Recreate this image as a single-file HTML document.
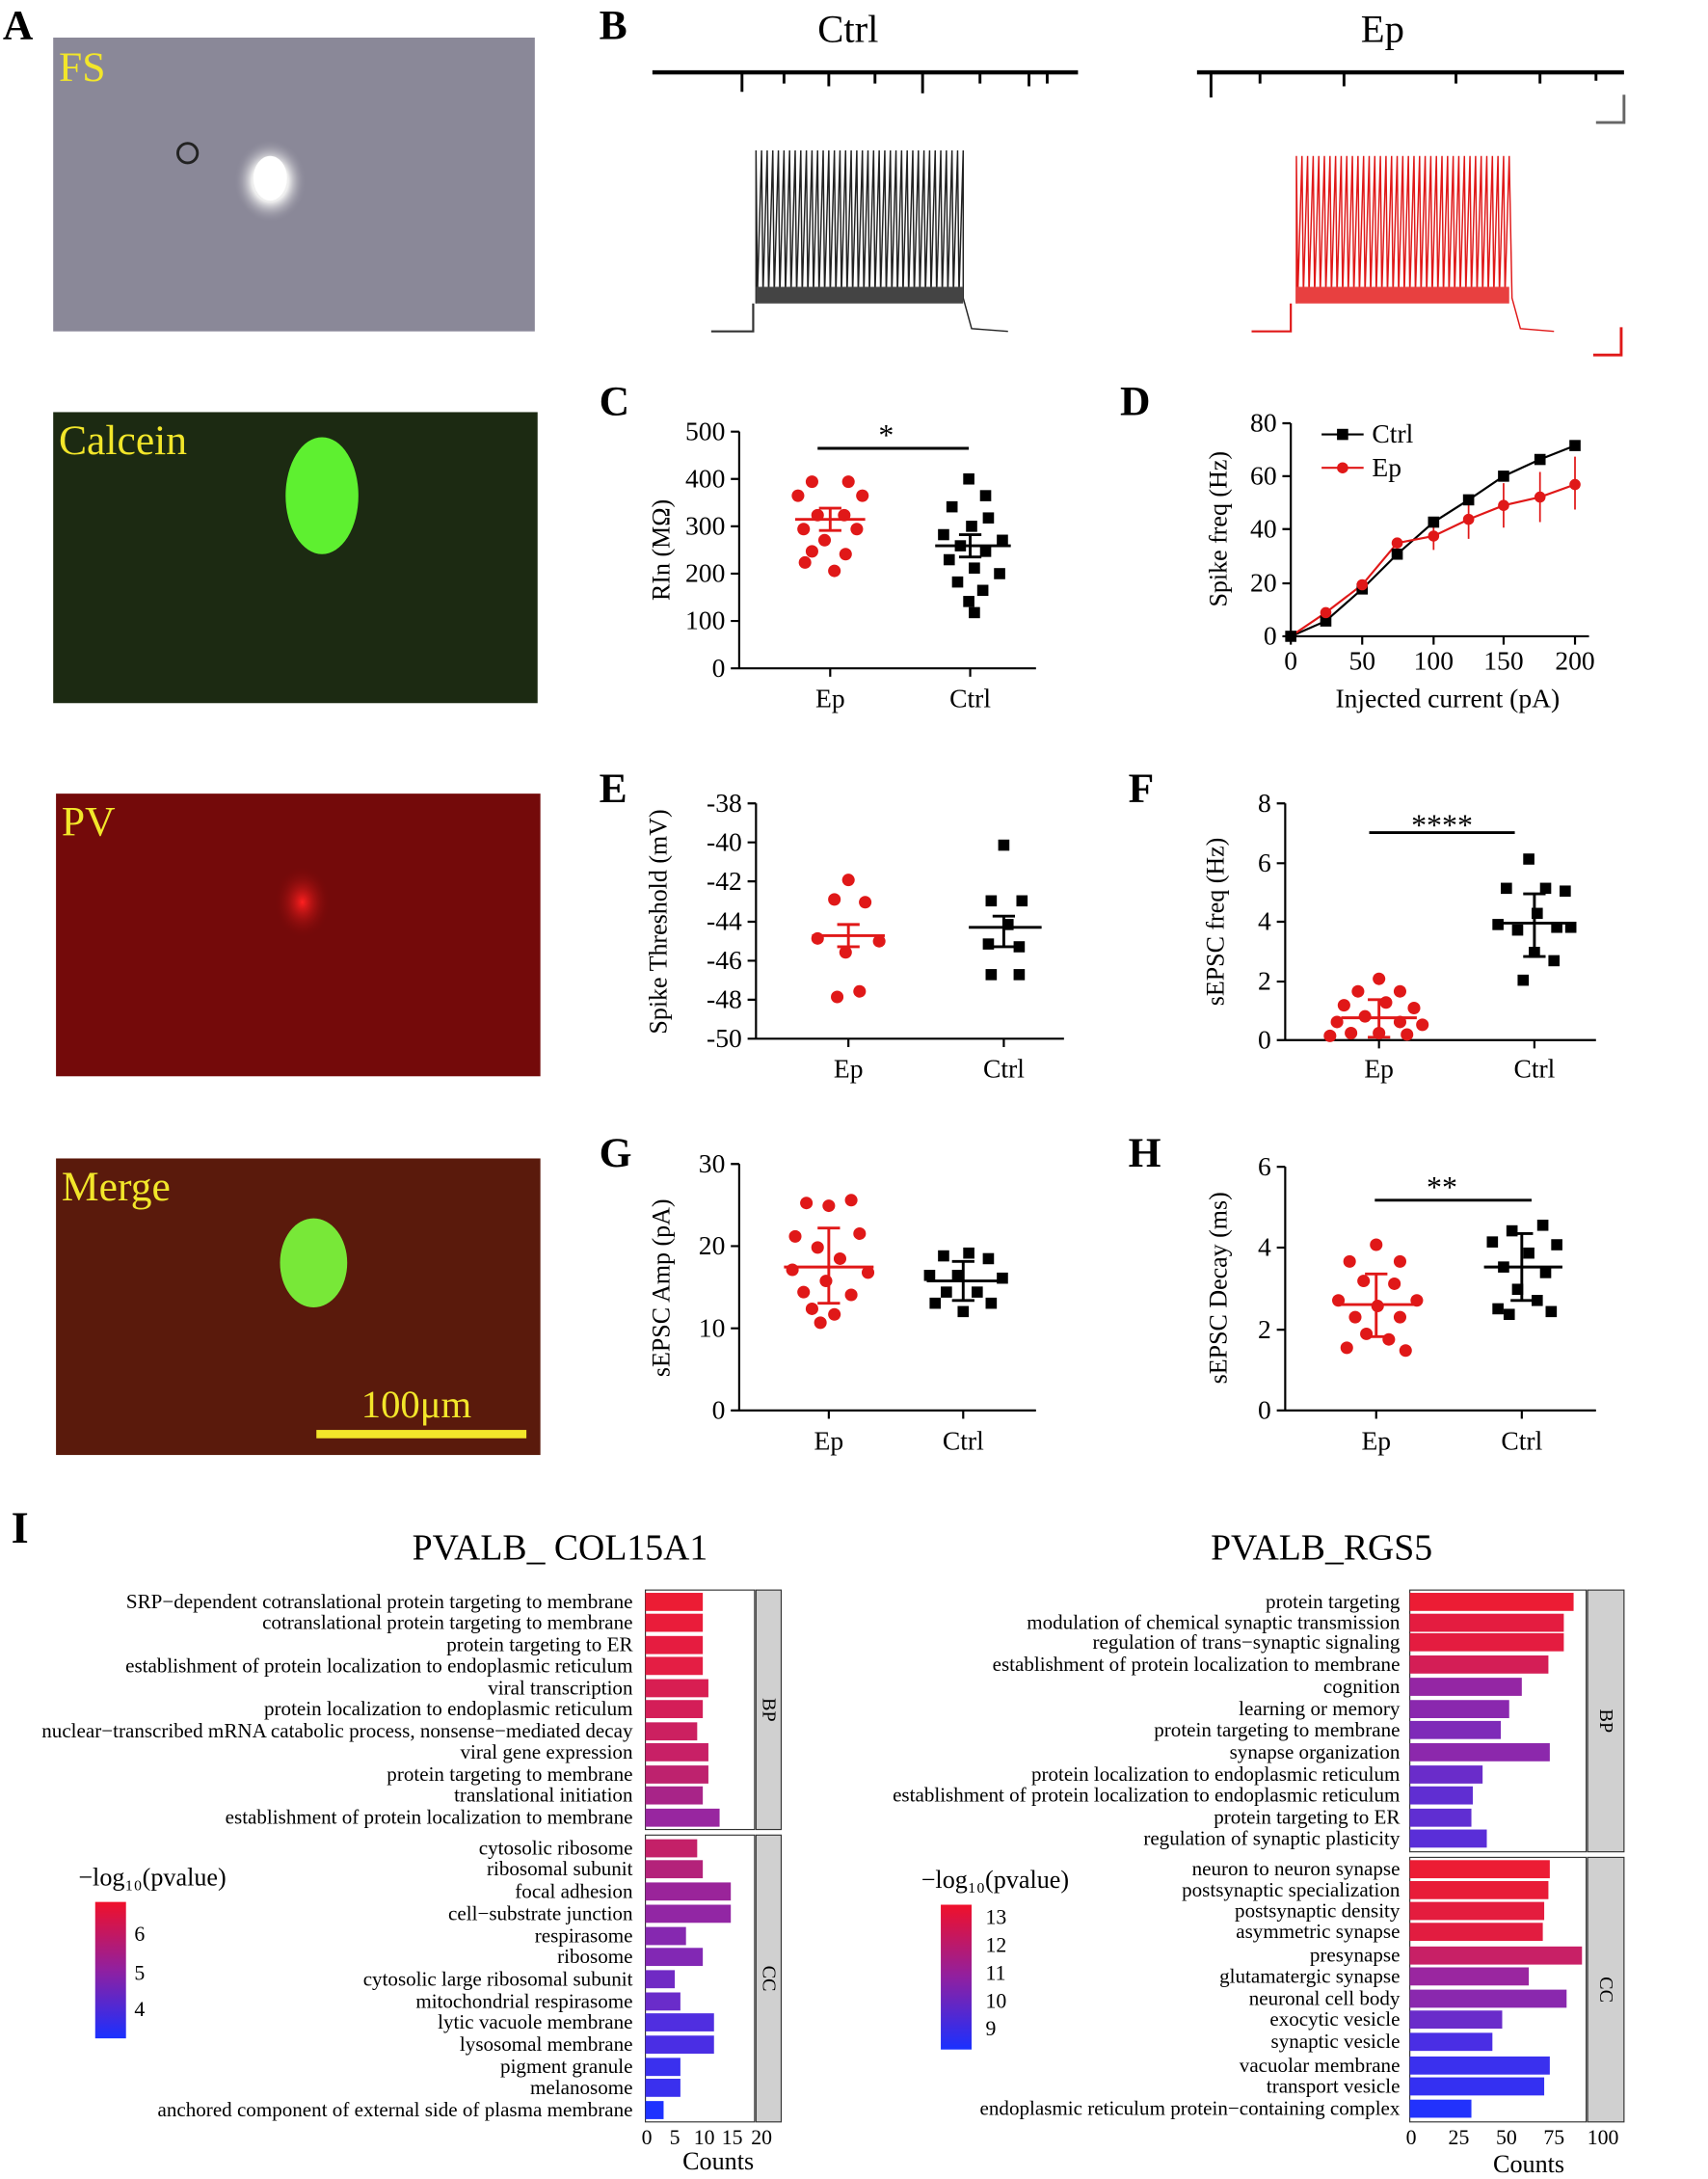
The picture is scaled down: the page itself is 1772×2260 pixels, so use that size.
<!DOCTYPE html>
<html><head><meta charset="utf-8"><style>
html,body{margin:0;padding:0;background:#fff;}
svg{display:block;font-family:"Liberation Serif",serif;}
</style></head><body>
<svg width="1772" height="2260" viewBox="0 0 1220 1565" preserveAspectRatio="none" xmlns="http://www.w3.org/2000/svg">
<defs>
<radialGradient id="cell" cx="0.5" cy="0.5" r="0.5"><stop offset="0" stop-color="#fff"/><stop offset="0.5" stop-color="#eee"/><stop offset="1" stop-color="#8a8898" stop-opacity="0"/></radialGradient>
<radialGradient id="pvc" cx="0.5" cy="0.5" r="0.5"><stop offset="0" stop-color="#ff2020"/><stop offset="1" stop-color="#7a0808" stop-opacity="0"/></radialGradient>
<linearGradient id="cbar" x1="0" y1="0" x2="0" y2="1"><stop offset="0" stop-color="#f0102a"/><stop offset="0.5" stop-color="#9020a0"/><stop offset="1" stop-color="#1a30ff"/></linearGradient>
</defs>
<text x="2" y="28" font-size="30" font-weight="bold">A</text>
<rect x="38" y="27" width="344" height="211" fill="#8a8898"/>
<ellipse cx="193" cy="130" rx="26" ry="30" fill="url(#cell)"/>
<ellipse cx="193" cy="128" rx="12" ry="16" fill="#fff"/>
<circle cx="134" cy="110" r="7" fill="none" stroke="#222" stroke-width="2"/>
<text x="42" y="58" font-size="30" fill="#f2e62a">FS</text>
<rect x="38" y="296" width="346" height="209" fill="#1c2a12"/>
<ellipse cx="230" cy="356" rx="26" ry="42" fill="#5ef030"/>
<text x="42" y="326" font-size="30" fill="#f2e62a">Calcein</text>
<rect x="40" y="570" width="346" height="203" fill="#740a0a"/>
<ellipse cx="216" cy="648" rx="20" ry="26" fill="url(#pvc)"/>
<text x="44" y="600" font-size="30" fill="#f2e62a">PV</text>
<rect x="40" y="832" width="346" height="213" fill="#5a1a0c"/>
<ellipse cx="224" cy="907" rx="24" ry="32" fill="#78e838"/>
<text x="44" y="862" font-size="30" fill="#f2e62a">Merge</text>
<rect x="226" y="1027" width="150" height="6" fill="#f2e62a"/>
<text x="258" y="1018" font-size="28" fill="#f2e62a">100μm</text>
<text x="428" y="28" font-size="30" font-weight="bold">B</text>
<text x="584" y="30" font-size="28">Ctrl</text>
<text x="972" y="30" font-size="28">Ep</text>
<path d="M466 52 L770 52" stroke="#000" stroke-width="3"/>
<path d="M530 52v14M560 52v8M592 52v10M625 52v8M659 52v15M700 52v8M735 52v10M748 52v8" stroke="#000" stroke-width="2"/>
<path d="M855 52 L1160 52" stroke="#000" stroke-width="3"/>
<path d="M865 52v18M900 52v8M960 52v10M1040 52v8M1100 52v8M1140 52v6" stroke="#000" stroke-width="2"/>
<path d="M1140 88h20v-20" stroke="#666" stroke-width="2" fill="none"/>
<path d="M508 238h30v-20" stroke="#333" stroke-width="1.5" fill="none"/>
<path d="M540 218 L540 108 L541 212 L544 108 L545 212 L548 108 L549 212 L552 108 L553 212 L556 108 L557 212 L560 108 L561 212 L564 108 L565 212 L568 108 L569 212 L572 108 L573 212 L576 108 L577 212 L580 108 L581 212 L584 108 L585 212 L588 108 L589 212 L592 108 L593 212 L596 108 L597 212 L600 108 L601 212 L604 108 L605 212 L608 108 L609 212 L612 108 L613 212 L616 108 L617 212 L620 108 L621 212 L624 108 L625 212 L628 108 L629 212 L632 108 L633 212 L636 108 L637 212 L640 108 L641 212 L644 108 L645 212 L648 108 L649 212 L652 108 L653 212 L656 108 L657 212 L660 108 L661 212 L664 108 L665 212 L668 108 L669 212 L672 108 L673 212 L676 108 L677 212 L680 108 L681 212 L684 108 L685 212 L688 108 L688 214 L694 236 L720 238" stroke="#222" stroke-width="1" fill="none"/>
<path d="M540 206 H688 V218 H540Z" fill="#444"/>
<path d="M894 238h28v-20" stroke="#e01818" stroke-width="1.5" fill="none"/>
<path d="M926 218 L926 112 L927 212 L930 112 L931 212 L934 112 L935 212 L938 112 L939 212 L942 112 L943 212 L946 112 L947 212 L950 112 L951 212 L954 112 L955 212 L958 112 L959 212 L962 112 L963 212 L966 112 L967 212 L970 112 L971 212 L974 112 L975 212 L978 112 L979 212 L982 112 L983 212 L986 112 L987 212 L990 112 L991 212 L994 112 L995 212 L998 112 L999 212 L1002 112 L1003 212 L1006 112 L1007 212 L1010 112 L1011 212 L1014 112 L1015 212 L1018 112 L1019 212 L1022 112 L1023 212 L1026 112 L1027 212 L1030 112 L1031 212 L1034 112 L1035 212 L1038 112 L1039 212 L1042 112 L1043 212 L1046 112 L1047 212 L1050 112 L1051 212 L1054 112 L1055 212 L1058 112 L1059 212 L1062 112 L1063 212 L1066 112 L1067 212 L1070 112 L1071 212 L1074 112 L1075 212 L1078 112 L1080 214 L1086 236 L1110 238" stroke="#e01818" stroke-width="1" fill="none"/>
<path d="M926 206 H1078 V218 H926Z" fill="#e84040"/>
<path d="M1138 255h20v-20" stroke="#e01818" stroke-width="2" fill="none"/>
<g font-size="19" fill="#000">
<text x="428" y="298" font-size="30" font-weight="bold">C</text>
<path d="M528 310V480H740 M522 310h6M522 344h6M522 378h6M522 412h6M522 446h6M522 480h6 M593 480v6M693 480v6" stroke="#000" stroke-width="1.5" fill="none"/>
<g text-anchor="end"><text x="518" y="316">500</text><text x="518" y="350">400</text><text x="518" y="384">300</text><text x="518" y="418">200</text><text x="518" y="452">100</text><text x="518" y="486">0</text></g>
<text x="593" y="508" text-anchor="middle">Ep</text><text x="693" y="508" text-anchor="middle">Ctrl</text>
<text transform="translate(478 395) rotate(-90)" text-anchor="middle" font-size="18">RIn (MΩ)</text>
<path d="M584 322h108" stroke="#000" stroke-width="2"/><text x="633" y="320" text-anchor="middle" font-size="22">*</text>
<g fill="#e01818"><circle cx="580" cy="346" r="4.5"/><circle cx="606" cy="346" r="4.5"/><circle cx="570" cy="356" r="4.5"/><circle cx="616" cy="356" r="4.5"/><circle cx="584" cy="370" r="4.5"/><circle cx="603" cy="370" r="4.5"/><circle cx="574" cy="380" r="4.5"/><circle cx="612" cy="380" r="4.5"/><circle cx="589" cy="388" r="4.5"/><circle cx="580" cy="396" r="4.5"/><circle cx="604" cy="398" r="4.5"/><circle cx="575" cy="404" r="4.5"/><circle cx="596" cy="410" r="4.5"/></g>
<path d="M568 373h50M593 365v16M585 365h16M585 381h16" stroke="#e01818" stroke-width="2"/>
<g fill="#000"><rect x="688" y="340" width="8" height="8"/><rect x="700" y="352" width="8" height="8"/><rect x="676" y="360" width="8" height="8"/><rect x="702" y="368" width="8" height="8"/><rect x="690" y="374" width="8" height="8"/><rect x="670" y="380" width="8" height="8"/><rect x="712" y="384" width="8" height="8"/><rect x="682" y="388" width="8" height="8"/><rect x="700" y="392" width="8" height="8"/><rect x="674" y="398" width="8" height="8"/><rect x="692" y="404" width="8" height="8"/><rect x="710" y="408" width="8" height="8"/><rect x="680" y="414" width="8" height="8"/><rect x="698" y="420" width="8" height="8"/><rect x="688" y="428" width="8" height="8"/><rect x="692" y="436" width="8" height="8"/></g>
<path d="M668 392h54M693 384v16M685 384h16M685 400h16" stroke="#000" stroke-width="2"/>
<text x="800" y="298" font-size="30" font-weight="bold">D</text>
<path d="M922 304V457H1135 M916 304h6M916 342h6M916 380h6M916 419h6M916 457h6 M922 457v6M973 457v6M1024 457v6M1074 457v6M1125 457v6" stroke="#000" stroke-width="1.5" fill="none"/>
<g text-anchor="end"><text x="912" y="310">80</text><text x="912" y="348">60</text><text x="912" y="386">40</text><text x="912" y="425">20</text><text x="912" y="463">0</text></g>
<g text-anchor="middle"><text x="922" y="481">0</text><text x="973" y="481">50</text><text x="1024" y="481">100</text><text x="1074" y="481">150</text><text x="1125" y="481">200</text></g>
<text x="1034" y="508" text-anchor="middle">Injected current (pA)</text>
<text transform="translate(876 380) rotate(-90)" text-anchor="middle" font-size="18">Spike freq (Hz)</text>
<path d="M922 457L947 446L973 423L998 398L1024 375L1049 359L1074 342L1100 330L1125 320" stroke="#000" stroke-width="1.5" fill="none"/>
<path d="M922 457L947 440L973 420L998 390L1024 385L1049 373L1074 363L1100 357L1125 348" stroke="#e01818" stroke-width="1.5" fill="none"/>
<path d="M1024 385v-10M1049 373v-14M1074 363v-16M1100 357v-18M1125 348v-20M1125 348v18M1100 357v18M1074 363v16M1049 373v14M1024 385v10" stroke="#e01818" stroke-width="1.2"/>
<g fill="#000"><rect x="918" y="453" width="8" height="8"/><rect x="943" y="442" width="8" height="8"/><rect x="969" y="419" width="8" height="8"/><rect x="994" y="394" width="8" height="8"/><rect x="1020" y="371" width="8" height="8"/><rect x="1045" y="355" width="8" height="8"/><rect x="1070" y="338" width="8" height="8"/><rect x="1096" y="326" width="8" height="8"/><rect x="1121" y="316" width="8" height="8"/></g>
<g fill="#e01818"><circle cx="947" cy="440" r="4"/><circle cx="973" cy="420" r="4"/><circle cx="998" cy="390" r="4"/><circle cx="1024" cy="385" r="4"/><circle cx="1049" cy="373" r="4"/><circle cx="1074" cy="363" r="4"/><circle cx="1100" cy="357" r="4"/><circle cx="1125" cy="348" r="4"/></g>
<path d="M944 312h30" stroke="#000" stroke-width="1.5"/><rect x="955" y="308" width="8" height="8"/><text x="980" y="318">Ctrl</text>
<path d="M944 336h30" stroke="#e01818" stroke-width="1.5"/><circle cx="959" cy="336" r="4" fill="#e01818"/><text x="980" y="342">Ep</text>
<text x="428" y="576" font-size="30" font-weight="bold">E</text>
<path d="M540 577V746H760 M534 577h6M534 605h6M534 633h6M534 662h6M534 690h6M534 718h6M534 746h6 M606 746v6M717 746v6" stroke="#000" stroke-width="1.5" fill="none"/>
<g text-anchor="end"><text x="530" y="583">-38</text><text x="530" y="611">-40</text><text x="530" y="639">-42</text><text x="530" y="668">-44</text><text x="530" y="696">-46</text><text x="530" y="724">-48</text><text x="530" y="752">-50</text></g>
<text x="606" y="774" text-anchor="middle">Ep</text><text x="717" y="774" text-anchor="middle">Ctrl</text>
<text transform="translate(476 662) rotate(-90)" text-anchor="middle" font-size="18">Spike Threshold (mV)</text>
<g fill="#e01818"><circle cx="606" cy="632" r="4.5"/><circle cx="596" cy="646" r="4.5"/><circle cx="618" cy="648" r="4.5"/><circle cx="584" cy="674" r="4.5"/><circle cx="628" cy="676" r="4.5"/><circle cx="604" cy="684" r="4.5"/><circle cx="598" cy="716" r="4.5"/><circle cx="614" cy="712" r="4.5"/></g>
<path d="M580 672h52M606 664v16M598 664h16M598 680h16" stroke="#e01818" stroke-width="2"/>
<g fill="#000"><rect x="713" y="603" width="8" height="8"/><rect x="704" y="643" width="8" height="8"/><rect x="726" y="643" width="8" height="8"/><rect x="716" y="660" width="8" height="8"/><rect x="702" y="674" width="8" height="8"/><rect x="724" y="676" width="8" height="8"/><rect x="704" y="696" width="8" height="8"/><rect x="724" y="696" width="8" height="8"/></g>
<path d="M692 666h52M717 658v22M709 658h16M709 680h16" stroke="#000" stroke-width="2"/>
<text x="806" y="576" font-size="30" font-weight="bold">F</text>
<path d="M918 577V747H1140 M912 577h6M912 620h6M912 662h6M912 705h6M912 747h6 M985 747v6M1096 747v6" stroke="#000" stroke-width="1.5" fill="none"/>
<g text-anchor="end"><text x="908" y="583">8</text><text x="908" y="626">6</text><text x="908" y="668">4</text><text x="908" y="711">2</text><text x="908" y="753">0</text></g>
<text x="985" y="774" text-anchor="middle">Ep</text><text x="1096" y="774" text-anchor="middle">Ctrl</text>
<text transform="translate(874 662) rotate(-90)" text-anchor="middle" font-size="18">sEPSC freq (Hz)</text>
<path d="M978 598h104" stroke="#000" stroke-width="2"/><text x="1030" y="600" text-anchor="middle" font-size="22">****</text>
<g fill="#e01818"><circle cx="985" cy="703" r="4.5"/><circle cx="970" cy="712" r="4.5"/><circle cx="1000" cy="712" r="4.5"/><circle cx="960" cy="722" r="4.5"/><circle cx="990" cy="720" r="4.5"/><circle cx="1010" cy="724" r="4.5"/><circle cx="975" cy="730" r="4.5"/><circle cx="955" cy="734" r="4.5"/><circle cx="1000" cy="734" r="4.5"/><circle cx="1016" cy="736" r="4.5"/><circle cx="965" cy="742" r="4.5"/><circle cx="985" cy="742" r="4.5"/><circle cx="1005" cy="743" r="4.5"/><circle cx="950" cy="744" r="4.5"/></g>
<path d="M958 731h54M985 718v27M977 718h16M977 745h16" stroke="#e01818" stroke-width="2"/>
<g fill="#000"><rect x="1088" y="613" width="8" height="8"/><rect x="1072" y="634" width="8" height="8"/><rect x="1100" y="634" width="8" height="8"/><rect x="1114" y="636" width="8" height="8"/><rect x="1094" y="652" width="8" height="8"/><rect x="1066" y="660" width="8" height="8"/><rect x="1108" y="662" width="8" height="8"/><rect x="1080" y="664" width="8" height="8"/><rect x="1118" y="662" width="8" height="8"/><rect x="1092" y="680" width="8" height="8"/><rect x="1106" y="686" width="8" height="8"/><rect x="1084" y="700" width="8" height="8"/></g>
<path d="M1068 663h56M1096 642v45M1088 642h16M1088 687h16" stroke="#000" stroke-width="2"/>
<text x="428" y="838" font-size="30" font-weight="bold">G</text>
<path d="M528 836V1013H740 M522 836h6M522 895h6M522 954h6M522 1013h6 M592 1013v6M688 1013v6" stroke="#000" stroke-width="1.5" fill="none"/>
<g text-anchor="end"><text x="518" y="842">30</text><text x="518" y="901">20</text><text x="518" y="960">10</text><text x="518" y="1019">0</text></g>
<text x="592" y="1041" text-anchor="middle">Ep</text><text x="688" y="1041" text-anchor="middle">Ctrl</text>
<text transform="translate(478 925) rotate(-90)" text-anchor="middle" font-size="18">sEPSC Amp (pA)</text>
<g fill="#e01818"><circle cx="576" cy="864" r="4.5"/><circle cx="592" cy="866" r="4.5"/><circle cx="608" cy="862" r="4.5"/><circle cx="568" cy="888" r="4.5"/><circle cx="614" cy="886" r="4.5"/><circle cx="584" cy="896" r="4.5"/><circle cx="600" cy="904" r="4.5"/><circle cx="566" cy="912" r="4.5"/><circle cx="620" cy="914" r="4.5"/><circle cx="590" cy="920" r="4.5"/><circle cx="574" cy="928" r="4.5"/><circle cx="608" cy="930" r="4.5"/><circle cx="580" cy="940" r="4.5"/><circle cx="596" cy="944" r="4.5"/><circle cx="586" cy="950" r="4.5"/></g>
<path d="M560 910h64M592 882v54M584 882h16M584 936h16" stroke="#e01818" stroke-width="2"/>
<g fill="#000"><rect x="670" y="898" width="8" height="8"/><rect x="688" y="896" width="8" height="8"/><rect x="702" y="900" width="8" height="8"/><rect x="660" y="912" width="8" height="8"/><rect x="680" y="912" width="8" height="8"/><rect x="712" y="914" width="8" height="8"/><rect x="672" y="924" width="8" height="8"/><rect x="694" y="924" width="8" height="8"/><rect x="664" y="932" width="8" height="8"/><rect x="704" y="932" width="8" height="8"/><rect x="684" y="938" width="8" height="8"/></g>
<path d="M662 920h54M688 906v28M680 906h16M680 934h16" stroke="#000" stroke-width="2"/>
<text x="806" y="838" font-size="30" font-weight="bold">H</text>
<path d="M918 838V1013H1140 M912 838h6M912 896h6M912 955h6M912 1013h6 M983 1013v6M1087 1013v6" stroke="#000" stroke-width="1.5" fill="none"/>
<g text-anchor="end"><text x="908" y="844">6</text><text x="908" y="902">4</text><text x="908" y="961">2</text><text x="908" y="1019">0</text></g>
<text x="983" y="1041" text-anchor="middle">Ep</text><text x="1087" y="1041" text-anchor="middle">Ctrl</text>
<text transform="translate(876 925) rotate(-90)" text-anchor="middle" font-size="18">sEPSC Decay (ms)</text>
<path d="M982 862h112" stroke="#000" stroke-width="2"/><text x="1030" y="860" text-anchor="middle" font-size="22">**</text>
<g fill="#e01818"><circle cx="983" cy="894" r="4.5"/><circle cx="964" cy="906" r="4.5"/><circle cx="1000" cy="906" r="4.5"/><circle cx="974" cy="920" r="4.5"/><circle cx="996" cy="922" r="4.5"/><circle cx="956" cy="934" r="4.5"/><circle cx="1012" cy="934" r="4.5"/><circle cx="984" cy="938" r="4.5"/><circle cx="968" cy="946" r="4.5"/><circle cx="1000" cy="946" r="4.5"/><circle cx="976" cy="958" r="4.5"/><circle cx="992" cy="962" r="4.5"/><circle cx="962" cy="968" r="4.5"/><circle cx="1004" cy="970" r="4.5"/></g>
<path d="M956 937h54M983 915v45M975 915h16M975 960h16" stroke="#e01818" stroke-width="2"/>
<g fill="#000"><rect x="1098" y="876" width="8" height="8"/><rect x="1076" y="880" width="8" height="8"/><rect x="1062" y="888" width="8" height="8"/><rect x="1108" y="890" width="8" height="8"/><rect x="1088" y="896" width="8" height="8"/><rect x="1070" y="906" width="8" height="8"/><rect x="1100" y="910" width="8" height="8"/><rect x="1080" y="922" width="8" height="8"/><rect x="1094" y="930" width="8" height="8"/><rect x="1066" y="936" width="8" height="8"/><rect x="1104" y="938" width="8" height="8"/><rect x="1074" y="940" width="8" height="8"/></g>
<path d="M1060 910h56M1087 886v48M1079 886h16M1079 934h16" stroke="#000" stroke-width="2"/>
</g>
<text x="8" y="1108" font-size="32" font-weight="bold">I</text>
<text x="400" y="1120" font-size="26" text-anchor="middle">PVALB_ COL15A1</text>
<text x="944" y="1120" font-size="26" text-anchor="middle">PVALB_RGS5</text>
<g font-size="14.5" text-anchor="end">
<rect x="461" y="1142" width="78" height="172" fill="#fff" stroke="#333" stroke-width="0.8"/>
<rect x="461" y="1318" width="78" height="206" fill="#fff" stroke="#333" stroke-width="0.8"/>
<rect x="540" y="1142" width="18" height="172" fill="#d0d0d0" stroke="#333" stroke-width="0.8"/>
<rect x="540" y="1318" width="18" height="206" fill="#d0d0d0" stroke="#333" stroke-width="0.8"/>
<text transform="translate(545 1228) rotate(90)" text-anchor="middle" font-size="14">BP</text>
<text transform="translate(545 1421) rotate(90)" text-anchor="middle" font-size="14">CC</text>
<g>
<rect x="461" y="1144" width="41" height="13" fill="#ec1c34"/><text x="452" y="1155">SRP−dependent cotranslational protein targeting to membrane</text>
<rect x="461" y="1159" width="41" height="13" fill="#ea1c3a"/><text x="452" y="1170">cotranslational protein targeting to membrane</text>
<rect x="461" y="1175" width="41" height="13" fill="#e61c40"/><text x="452" y="1186">protein targeting to ER</text>
<rect x="461" y="1190" width="41" height="13" fill="#e41e44"/><text x="452" y="1201">establishment of protein localization to endoplasmic reticulum</text>
<rect x="461" y="1206" width="45" height="13" fill="#d81e52"/><text x="452" y="1217">viral transcription</text>
<rect x="461" y="1221" width="41" height="13" fill="#d41e58"/><text x="452" y="1232">protein localization to endoplasmic reticulum</text>
<rect x="461" y="1237" width="37" height="13" fill="#cc2060"/><text x="452" y="1248">nuclear−transcribed mRNA catabolic process, nonsense−mediated decay</text>
<rect x="461" y="1252" width="45" height="13" fill="#c82066"/><text x="452" y="1263">viral gene expression</text>
<rect x="461" y="1268" width="45" height="13" fill="#be226e"/><text x="452" y="1279">protein targeting to membrane</text>
<rect x="461" y="1283" width="41" height="13" fill="#a82488"/><text x="452" y="1294">translational initiation</text>
<rect x="461" y="1299" width="53" height="13" fill="#9826a0"/><text x="452" y="1310">establishment of protein localization to membrane</text>
<rect x="461" y="1321" width="37" height="13" fill="#c42068"/><text x="452" y="1332">cytosolic ribosome</text>
<rect x="461" y="1336" width="41" height="13" fill="#b4227a"/><text x="452" y="1347">ribosomal subunit</text>
<rect x="461" y="1352" width="61" height="13" fill="#9a249a"/><text x="452" y="1363">focal adhesion</text>
<rect x="461" y="1368" width="61" height="13" fill="#9226a4"/><text x="452" y="1379">cell−substrate junction</text>
<rect x="461" y="1384" width="29" height="13" fill="#8628b0"/><text x="452" y="1395">respirasome</text>
<rect x="461" y="1399" width="41" height="13" fill="#8228b4"/><text x="452" y="1410">ribosome</text>
<rect x="461" y="1415" width="21" height="13" fill="#702ac4"/><text x="452" y="1426">cytosolic large ribosomal subunit</text>
<rect x="461" y="1431" width="25" height="13" fill="#6a2cca"/><text x="452" y="1442">mitochondrial respirasome</text>
<rect x="461" y="1446" width="49" height="13" fill="#502ee0"/><text x="452" y="1457">lytic vacuole membrane</text>
<rect x="461" y="1462" width="49" height="13" fill="#4a2ee4"/><text x="452" y="1473">lysosomal membrane</text>
<rect x="461" y="1478" width="25" height="13" fill="#3a30ee"/><text x="452" y="1489">pigment granule</text>
<rect x="461" y="1493" width="25" height="13" fill="#3a30ee"/><text x="452" y="1504">melanosome</text>
<rect x="461" y="1509" width="13" height="13" fill="#1e32ff"/><text x="452" y="1520">anchored component of external side of plasma membrane</text>
</g>
<g text-anchor="middle" font-size="15"><text x="462" y="1540">0</text><text x="482" y="1540">5</text><text x="503" y="1540">10</text><text x="523" y="1540">15</text><text x="544" y="1540">20</text></g>
<text x="513" y="1558" text-anchor="middle" font-size="18">Counts</text>
<text x="56" y="1354" text-anchor="start" font-size="18">−log₁₀(pvalue)</text>
<rect x="68" y="1366" width="22" height="98" fill="url(#cbar)"/>
<text x="96" y="1394" text-anchor="start" font-size="15">6</text><text x="96" y="1422" text-anchor="start" font-size="15">5</text><text x="96" y="1448" text-anchor="start" font-size="15">4</text>
<rect x="1007" y="1142" width="126" height="188" fill="#fff" stroke="#333" stroke-width="0.8"/>
<rect x="1007" y="1334" width="126" height="190" fill="#fff" stroke="#333" stroke-width="0.8"/>
<rect x="1134" y="1142" width="26" height="188" fill="#d0d0d0" stroke="#333" stroke-width="0.8"/>
<rect x="1134" y="1334" width="26" height="190" fill="#d0d0d0" stroke="#333" stroke-width="0.8"/>
<text transform="translate(1143 1236) rotate(90)" text-anchor="middle" font-size="14">BP</text>
<text transform="translate(1143 1429) rotate(90)" text-anchor="middle" font-size="14">CC</text>
<g>
<rect x="1007" y="1144" width="117" height="13" fill="#ec1c34"/><text x="1000" y="1155">protein targeting</text>
<rect x="1007" y="1159" width="110" height="13" fill="#e41c40"/><text x="1000" y="1170">modulation of chemical synaptic transmission</text>
<rect x="1007" y="1173" width="110" height="13" fill="#e41c40"/><text x="1000" y="1184">regulation of trans−synaptic signaling</text>
<rect x="1007" y="1189" width="99" height="13" fill="#d41e56"/><text x="1000" y="1200">establishment of protein localization to membrane</text>
<rect x="1007" y="1205" width="80" height="13" fill="#9426a4"/><text x="1000" y="1216">cognition</text>
<rect x="1007" y="1221" width="71" height="13" fill="#8a28ae"/><text x="1000" y="1232">learning or memory</text>
<rect x="1007" y="1236" width="65" height="13" fill="#7e2ab8"/><text x="1000" y="1247">protein targeting to membrane</text>
<rect x="1007" y="1252" width="100" height="13" fill="#8c28ac"/><text x="1000" y="1263">synapse organization</text>
<rect x="1007" y="1268" width="52" height="13" fill="#6a2cca"/><text x="1000" y="1279">protein localization to endoplasmic reticulum</text>
<rect x="1007" y="1283" width="45" height="13" fill="#602ed2"/><text x="1000" y="1294">establishment of protein localization to endoplasmic reticulum</text>
<rect x="1007" y="1299" width="44" height="13" fill="#602ed2"/><text x="1000" y="1310">protein targeting to ER</text>
<rect x="1007" y="1314" width="55" height="13" fill="#5a2ed8"/><text x="1000" y="1325">regulation of synaptic plasticity</text>
<rect x="1007" y="1336" width="100" height="13" fill="#ec1c34"/><text x="1000" y="1347">neuron to neuron synapse</text>
<rect x="1007" y="1351" width="99" height="13" fill="#e81c38"/><text x="1000" y="1362">postsynaptic specialization</text>
<rect x="1007" y="1366" width="96" height="13" fill="#e41c3e"/><text x="1000" y="1377">postsynaptic density</text>
<rect x="1007" y="1381" width="95" height="13" fill="#e21c40"/><text x="1000" y="1392">asymmetric synapse</text>
<rect x="1007" y="1398" width="123" height="13" fill="#c82066"/><text x="1000" y="1409">presynapse</text>
<rect x="1007" y="1413" width="85" height="13" fill="#9a26a0"/><text x="1000" y="1424">glutamatergic synapse</text>
<rect x="1007" y="1429" width="112" height="13" fill="#8a28ae"/><text x="1000" y="1440">neuronal cell body</text>
<rect x="1007" y="1444" width="66" height="13" fill="#6a2cca"/><text x="1000" y="1455">exocytic vesicle</text>
<rect x="1007" y="1460" width="59" height="13" fill="#4a2ee4"/><text x="1000" y="1471">synaptic vesicle</text>
<rect x="1007" y="1477" width="100" height="13" fill="#3a30ee"/><text x="1000" y="1488">vacuolar membrane</text>
<rect x="1007" y="1492" width="96" height="13" fill="#3430f2"/><text x="1000" y="1503">transport vesicle</text>
<rect x="1007" y="1508" width="44" height="13" fill="#2232fc"/><text x="1000" y="1519">endoplasmic reticulum protein−containing complex</text>
</g>
<g text-anchor="middle" font-size="15"><text x="1008" y="1540">0</text><text x="1042" y="1540">25</text><text x="1076" y="1540">50</text><text x="1110" y="1540">75</text><text x="1145" y="1540">100</text></g>
<text x="1092" y="1560" text-anchor="middle" font-size="18">Counts</text>
<text x="658" y="1356" text-anchor="start" font-size="18">−log₁₀(pvalue)</text>
<rect x="672" y="1368" width="22" height="104" fill="url(#cbar)"/>
<g text-anchor="start" font-size="15"><text x="704" y="1382">13</text><text x="704" y="1402">12</text><text x="704" y="1422">11</text><text x="704" y="1442">10</text><text x="704" y="1462">9</text></g>
</g>
</svg>
</body></html>
